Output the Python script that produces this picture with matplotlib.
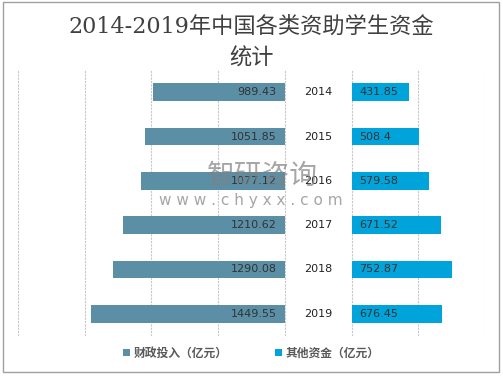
import numpy as np
from matplotlib import pyplot as plt
from matplotlib.patches import Rectangle

plt.rcParams['font.family'] = ['DejaVu Sans', 'Noto Sans CJK SC']
plt.rcParams['axes.unicode_minus'] = False

# 数据
years = ['2014', '2015', '2016', '2017', '2018', '2019']
caizheng = [989.43, 1051.85, 1077.12, 1210.62, 1290.08, 1449.55]
qita = [431.85, 508.4, 579.58, 671.52, 752.87, 676.45]
caizheng_labels = ['989.43', '1051.85', '1077.12', '1210.62', '1290.08', '1449.55']
qita_labels = ['431.85', '508.4', '579.58', '671.52', '752.87', '676.45']

c_left = '#5B8FA6'
c_right = '#00A3DA'
gap = 500  # 中间留给年份的空白

fig = plt.figure(figsize=(5.03, 3.78), dpi=100)
ax = fig.add_axes([18/503, 1-336/378, (485-18)/503, (336-70)/378])

y = np.arange(len(years))
ax.barh(y, [-v for v in caizheng], height=0.4, color=c_left, label='财政投入（亿元）')
ax.barh(y, qita, left=gap, height=0.4, color=c_right, label='其他资金（亿元）')

for i in range(len(years)):
    ax.text(-60, i, caizheng_labels[i], ha='right', va='center', fontsize=8, color='#333333')
    ax.text(gap + 60, i, qita_labels[i], ha='left', va='center', fontsize=8, color='#333333')
    ax.text(gap / 2, i, years[i], ha='center', va='center', fontsize=8, color='#222222')

ax.set_xlim(-2000, 1500)
ax.set_ylim(len(years) - 0.5, -0.5)
ax.set_xticks(np.arange(-2000, 1501, 500))
ax.set_yticks([])
ax.tick_params(axis='x', length=0, labelbottom=False)
ax.grid(axis='x', color='#C8C8C8', linestyle=(0, (2, 1)), linewidth=0.8)
ax.set_axisbelow(True)
for s in ax.spines.values():
    s.set_visible(False)

fig.text(0.5, 1-43/378, '2014-2019年中国各类资助学生资金\n统计', ha='center', va='center',
         fontsize=16, color='#404040', linespacing=1.6,
         family=['DejaVu Serif', 'Noto Sans CJK SC'])

leg = fig.legend(loc='center', bbox_to_anchor=(0.5, 1-353/378), ncol=2, frameon=False,
                 handlelength=0.6, handleheight=0.6, columnspacing=4,
                 handletextpad=0.3, prop={'family': ['Noto Sans CJK SC'], 'size': 8.5, 'weight': 'bold'})
for t in leg.get_texts():
    t.set_color('#595959')

# 水印
fig.text(262/503, 1-176/378, '智研咨询', ha='center', va='center', fontsize=20,
         color='#808080', alpha=0.7, family=['Noto Sans CJK SC'], weight='light')
fig.text(251/503, 1-201/378, 'w w w . c h y x x . c o m', ha='center', va='center', fontsize=11,
         color='#808080', alpha=0.7)

fig.patches.append(Rectangle((3/503, 6/378), 496/503, 370/378, transform=fig.transFigure,
                             fill=False, edgecolor='#A0A0A0', linewidth=1))

fig.savefig('out.png', dpi=100)
